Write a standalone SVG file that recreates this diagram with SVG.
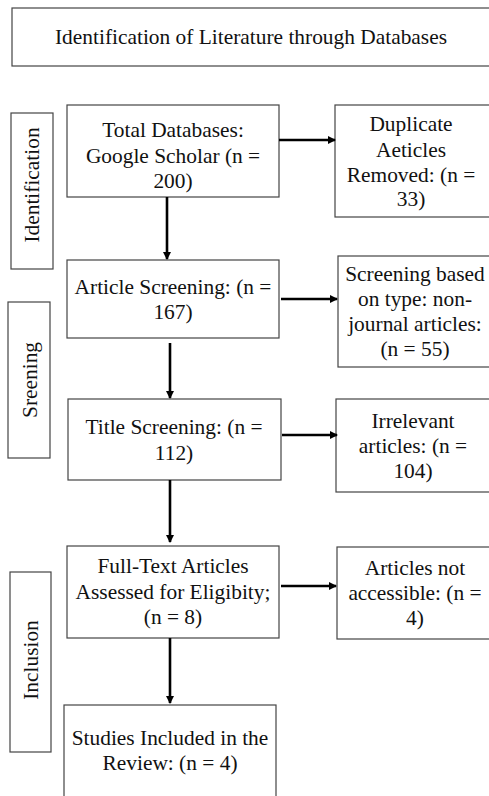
<svg xmlns="http://www.w3.org/2000/svg" width="489" height="796" viewBox="0 0 489 796">
<defs>
<marker id="ah" markerWidth="8" markerHeight="8" refX="7" refY="4" orient="auto" markerUnits="userSpaceOnUse">
<path d="M0,0 L8,4 L0,8 Z" fill="#000"/>
</marker>
<style>
.box{fill:#fff;stroke:#444;stroke-width:1.2}
.t{font-family:"Liberation Serif","Times New Roman","DejaVu Serif",serif;font-size:21.4px;fill:#111;text-anchor:middle}
.c{stroke:#000;stroke-width:2.6;fill:none}
</style>
</defs>
<rect width="489" height="796" fill="#fff"/>
<g id="title">
<rect class="box" x="12" y="8" width="490" height="58"/>
<text class="t" x="251" y="44">Identification of Literature through Databases</text>
</g>
<g id="side-identification">
<rect class="box" x="11" y="113" width="42" height="156"/>
<text class="t" transform="translate(39,185) rotate(-90)">Identification</text>
</g>
<g id="side-screening">
<rect class="box" x="8" y="302" width="42" height="156"/>
<text class="t" transform="translate(37,380) rotate(-90)">Sreening</text>
</g>
<g id="side-inclusion">
<rect class="box" x="10" y="572" width="41" height="180"/>
<text class="t" transform="translate(38,660) rotate(-90)">Inclusion</text>
</g>
<g id="n-total">
<rect class="box" x="67" y="105" width="212" height="92"/>
<text class="t" x="173" y="137">Total Databases:</text>
<text class="t" x="173" y="163">Google Scholar (n =</text>
<text class="t" x="173" y="188">200)</text>
</g>
<g id="n-duplicate">
<rect class="box" x="335" y="105" width="170" height="112"/>
<text class="t" x="411" y="131">Duplicate</text>
<text class="t" x="411" y="157">Aeticles</text>
<text class="t" x="411" y="182">Removed: (n =</text>
<text class="t" x="411" y="206">33)</text>
</g>
<g id="n-article">
<rect class="box" x="67" y="260" width="212" height="78"/>
<text class="t" x="173" y="294">Article Screening: (n =</text>
<text class="t" x="173" y="319">167)</text>
</g>
<g id="n-type">
<rect class="box" x="338" y="256" width="170" height="111"/>
<text class="t" x="415" y="281">Screening based</text>
<text class="t" x="415" y="306">on type: non-</text>
<text class="t" x="415" y="331">journal articles:</text>
<text class="t" x="415" y="356">(n = 55)</text>
</g>
<g id="n-title">
<rect class="box" x="68" y="399" width="213" height="81"/>
<text class="t" x="174" y="434">Title Screening: (n =</text>
<text class="t" x="174" y="460">112)</text>
</g>
<g id="n-irrelevant">
<rect class="box" x="336" y="399" width="170" height="93"/>
<text class="t" x="413" y="428">Irrelevant</text>
<text class="t" x="413" y="453">articles: (n =</text>
<text class="t" x="413" y="478">104)</text>
</g>
<g id="n-fulltext">
<rect class="box" x="67" y="546" width="212" height="92"/>
<text class="t" x="173" y="573">Full-Text Articles</text>
<text class="t" x="173" y="599">Assessed for Eligibity;</text>
<text class="t" x="173" y="624">(n = 8)</text>
</g>
<g id="n-notaccess">
<rect class="box" x="337" y="547" width="170" height="92"/>
<text class="t" x="415" y="575">Articles not</text>
<text class="t" x="415" y="600">accessible: (n =</text>
<text class="t" x="415" y="625">4)</text>
</g>
<g id="n-included">
<rect class="box" x="64" y="705" width="212" height="100"/>
<text class="t" x="170" y="745">Studies Included in the</text>
<text class="t" x="170" y="770">Review: (n = 4)</text>
</g>
<g id="connectors">
<line class="c" x1="279" y1="140" x2="335" y2="140" marker-end="url(#ah)"/>
<line class="c" x1="167" y1="197" x2="167" y2="259" marker-end="url(#ah)"/>
<line class="c" x1="281" y1="299" x2="337" y2="299" marker-end="url(#ah)"/>
<line class="c" x1="170" y1="343" x2="170" y2="398" marker-end="url(#ah)"/>
<line class="c" x1="282" y1="435" x2="337" y2="435" marker-end="url(#ah)"/>
<line class="c" x1="170" y1="480" x2="170" y2="542" marker-end="url(#ah)"/>
<line class="c" x1="281" y1="586" x2="336" y2="586" marker-end="url(#ah)"/>
<line class="c" x1="170" y1="638" x2="170" y2="703" marker-end="url(#ah)"/>
</g>
</svg>
